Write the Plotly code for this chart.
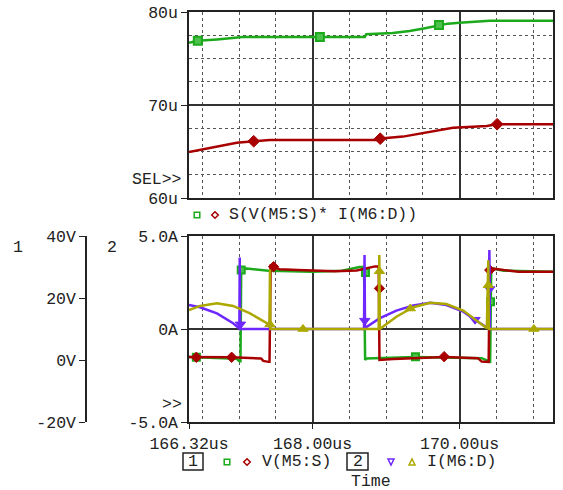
import plotly.graph_objects as go

# ---- data (times in us, top plot in u-units, V and A below) ----
top_green_t = [166.32, 166.44, 166.70, 166.88, 167.05, 168.71, 168.73, 169.09, 169.32, 169.53,
               169.72, 169.84, 170.00, 170.18, 170.41, 171.27]
top_green_v = [76.7, 76.9, 77.05, 77.15, 77.3, 77.3, 77.6, 77.75, 77.95, 78.25,
               78.55, 78.75, 78.85, 78.95, 79.07, 79.07]
top_green_mt = [166.44, 168.10, 169.72]
top_green_mv = [76.9, 77.3, 78.6]

top_red_t = [166.32, 166.51, 166.74, 166.97, 167.20, 167.42, 168.90, 168.93, 169.23, 169.46,
             169.73, 169.91, 170.18, 170.37, 170.50, 171.27]
top_red_v = [64.95, 65.25, 65.6, 65.95, 66.1, 66.25, 66.25, 66.4, 66.6, 66.9,
             67.3, 67.55, 67.65, 67.75, 67.93, 67.93]
top_red_mt = [167.20, 168.92, 170.51]
top_red_mv = [66.1, 66.38, 67.93]

vs_green_t = [166.32, 166.80, 166.97, 167.005, 167.02, 167.03, 167.10, 167.40, 168.00, 168.40,
              168.64, 168.70, 168.715, 168.73, 169.40, 170.30, 170.40, 170.415, 170.43, 170.6, 171.27]
vs_green_v = [1.0, 0.7, 0.4, -0.4, -0.4, 29.3, 29.5, 28.8, 28.5, 28.8,
              30.0, 30.0, 0.0, 0.5, 1.0, 0.6, -0.5, -0.5, 29.6, 28.8, 28.5]
vs_green_mt = [166.42, 167.03, 168.72, 169.40, 170.42]
vs_green_mv = [0.9, 29.0, 28.2, 1.07, 18.8]

vs_red_t = [166.32, 166.9, 167.30, 167.33, 167.40, 167.415, 167.43, 167.55, 167.8, 168.3,
            168.6, 168.85, 168.90, 168.91, 169.1, 169.8, 170.25, 170.30, 170.395, 170.41,
            170.6, 170.8, 171.27]
vs_red_v = [1.0, 0.9, 0.5, -0.3, -0.6, -0.6, 30.3, 29.3, 29.0, 28.6,
            28.9, 30.2, 30.2, 0.0, 0.3, 1.0, 0.6, -0.5, -0.6, 29.6,
            29.0, 28.5, 28.5]
vs_red_mt = [166.42, 166.90, 167.47, 168.91, 169.79, 170.41]
vs_red_mv = [0.87, 0.87, 30.1, 23.1, 1.07, 29.0]

id_purple_t = [166.32, 166.47, 166.70, 166.92, 167.005, 167.01, 167.015, 168.70, 168.707, 168.714,
               168.74, 168.91, 169.14, 169.37, 169.60, 169.82, 170.05, 170.21, 170.39, 170.405,
               170.412, 171.27]
id_purple_v = [1.29, 1.17, 0.84, 0.31, 0.03, 3.85, 0.0, 0.0, 3.98, 0.0,
               0.12, 0.57, 0.99, 1.27, 1.41, 1.29, 0.93, 0.48, 0.04, 4.25,
               0.0, 0.0]
id_purple_mt = [167.02, 168.71, 170.21, 170.41]
id_purple_mv = [0.25, 0.45, 0.5, 2.15]

id_olive_t = [166.32, 166.47, 166.70, 166.92, 167.15, 167.38, 167.415, 167.421, 167.427, 168.90,
              168.908, 168.915, 169.14, 169.37, 169.60, 169.82, 170.05, 170.28, 170.37, 170.39,
              170.397, 171.27]
id_olive_v = [1.02, 1.24, 1.38, 1.24, 0.84, 0.31, 0.12, 3.2, 0.0, 0.0,
              3.98, 0.0, 0.66, 1.17, 1.41, 1.34, 0.99, 0.31, 0.04, 3.7,
              0.0, 0.0]
id_olive_mt = [167.42, 167.87, 168.91, 169.33, 170.39, 171.01]
id_olive_mv = [0.25, 0.0, 3.1, 1.1, 2.35, 0.0]

x_ticks = [166.32, 168.0, 170.0]
x_ticktext = ["166.32us", "168.00us", "170.00us"]
x_minor = [166.5, 167.0, 167.5, 168.5, 169.0, 169.5, 170.5, 171.0]

# ---- page geometry (pixels -> paper); body margin is removed below ----
W, H = 563, 490


def px(x):
    return x / W


def py(y):
    return 1 - y / H


GREEN = "#1caa1c"
GREEN_FILL = "#4cc24c"
RED = "#a80000"
PURPLE = "#6e28ff"
OLIVE = "#aca800"
INK = "#222222"
FONT = "Liberation Mono"
FSIZE = 16.5

fig = go.Figure()


def add_line(t, v, color, xa, ya):
    fig.add_trace(go.Scatter(x=t, y=v, mode="lines", line=dict(color=color, width=2.5),
                             xaxis=xa, yaxis=ya, hoverinfo="skip"))


def add_marks(t, v, color, symbol, size, xa, ya, fill=None, lw=1):
    fig.add_trace(go.Scatter(x=t, y=v, mode="markers",
                             marker=dict(color=fill or color, symbol=symbol, size=size,
                                         line=dict(color=color, width=lw)),
                             xaxis=xa, yaxis=ya, hoverinfo="skip"))


# top plot
add_line(top_green_t, top_green_v, GREEN, "x", "y")
add_marks(top_green_mt, top_green_mv, GREEN, "square", 8, "x", "y", GREEN_FILL, 2)
add_line(top_red_t, top_red_v, RED, "x", "y")
add_marks(top_red_mt, top_red_mv, RED, "diamond", 9, "x", "y")

# bottom plot: volts on y2, amps on y3 (overlay, drawn on top)
add_line(vs_green_t, vs_green_v, GREEN, "x2", "y2")
add_marks(vs_green_mt, vs_green_mv, GREEN, "square", 7, "x2", "y2", GREEN_FILL, 2)
add_line(vs_red_t, vs_red_v, RED, "x2", "y2")
add_marks(vs_red_mt, vs_red_mv, RED, "diamond", 8, "x2", "y2")
add_line(id_purple_t, id_purple_v, PURPLE, "x2", "y3")
add_marks(id_purple_mt, id_purple_mv, PURPLE, "triangle-down", 9, "x2", "y3")
add_line(id_olive_t, id_olive_v, OLIVE, "x2", "y3")
add_marks(id_olive_mt, id_olive_mv, OLIVE, "triangle-up", 9, "x2", "y3")

axis_common = dict(showline=True, linecolor=INK, linewidth=1.5, zeroline=False,
                   automargin=False, tickcolor=INK, ticklabeloverflow="allow",
                   tickfont=dict(family=FONT, size=FSIZE, color=INK))
minor_dot = dict(showgrid=True, gridcolor="#555555", griddash="dot", gridwidth=1)

fig.update_layout(
    width=W, height=H,
    margin=dict(l=0, r=0, t=0, b=0),
    paper_bgcolor="white", plot_bgcolor="white",
    showlegend=False,
    font=dict(family=FONT, size=FSIZE, color=INK),
    xaxis=dict(axis_common, domain=[px(189), px(553)], anchor="y", range=[166.32, 171.27],
               tickvals=x_ticks, showticklabels=False, ticks="", mirror=True,
               showgrid=True, gridcolor="#333333", gridwidth=1.5,
               minor=dict(minor_dot, tickvals=x_minor)),
    yaxis=dict(axis_common, domain=[py(198), py(12)], anchor="x", range=[60, 80],
               tickvals=[60, 70, 80], ticktext=["60u", "70u", "80u"],
               ticks="outside", ticklen=6, mirror=True,
               showgrid=True, gridcolor="#333333", gridwidth=1.5,
               minor=dict(minor_dot, tickvals=[62.5, 65, 67.5, 72.5, 75, 77.5])),
    xaxis2=dict(axis_common, domain=[px(189), px(553)], anchor="y2", range=[166.32, 171.27],
                matches="x", tickvals=x_ticks, ticktext=x_ticktext,
                ticks="outside", ticklen=5, mirror=True,
                showgrid=True, gridcolor="#333333", gridwidth=1.5,
                minor=dict(minor_dot, tickvals=x_minor)),
    yaxis2=dict(axis_common, domain=[py(422), py(236)], anchor="free", position=px(86),
                range=[-20, 40], tickvals=[-20, 0, 20, 40],
                ticktext=["-20V", "0V", "20V", "40V"],
                ticks="outside", ticklen=6, showgrid=False),
    yaxis3=dict(axis_common, overlaying="y2", anchor="x2", side="left", range=[-5, 5],
                tickvals=[-5, 0, 5], ticktext=["-5.0A", "0A", "5.0A"],
                ticks="outside", ticklen=6, mirror=True,
                showgrid=True, gridcolor="#333333", gridwidth=1.5),
)


def note(text, x, y, anchor="center"):
    fig.add_annotation(text=text, x=px(x), y=py(y), xref="paper", yref="paper",
                       xanchor=anchor, yanchor="middle", showarrow=False,
                       font=dict(family=FONT, size=FSIZE, color=INK))


note("SEL>>", 184, 180, "right")
note(">>", 184, 404, "right")
note("1", 18, 247)
note("2", 112, 247)
note("S(V(M5:S)* I(M6:D))", 227, 215, "left")
note("1", 193, 461)
note("V(M5:S)", 260, 461, "left")
note("2", 357.5, 461)
note("I(M6:D)", 425, 461, "left")
note("Time", 371, 481)

# boxed trace-group numbers
for x0, x1 in [(183, 203), (347, 368)]:
    fig.add_shape(type="rect", xref="paper", yref="paper",
                  x0=px(x0), x1=px(x1), y0=py(470), y1=py(453),
                  line=dict(color=INK, width=1.5))


# small legend symbols
def sym_square(x, y, color, r=2.8):
    fig.add_shape(type="rect", xref="paper", yref="paper",
                  x0=px(x - r), x1=px(x + r), y0=py(y + r), y1=py(y - r),
                  line=dict(color=color, width=1.5))


def sym_path(points, color):
    d = "M " + " L ".join(f"{px(a)},{py(b)}" for a, b in points) + " Z"
    fig.add_shape(type="path", xref="paper", yref="paper", path=d,
                  line=dict(color=color, width=1.5))


def sym_diamond(x, y, color, r=3.3):
    sym_path([(x, y - r), (x + r, y), (x, y + r), (x - r, y)], color)


sym_square(197, 215, GREEN)
sym_diamond(215, 215, RED)
sym_square(227, 462, GREEN)
sym_diamond(247, 462, RED)
sym_path([(388, 459), (394, 459), (391, 465)], PURPLE)
sym_path([(409, 465), (415, 465), (412, 459)], OLIVE)

# let the figure sit flush with the window corner, no toolbar
fig.write_html("out.html", config={"displayModeBar": False},
               post_script="document.body.style.margin='0';document.body.style.overflow='hidden';")
